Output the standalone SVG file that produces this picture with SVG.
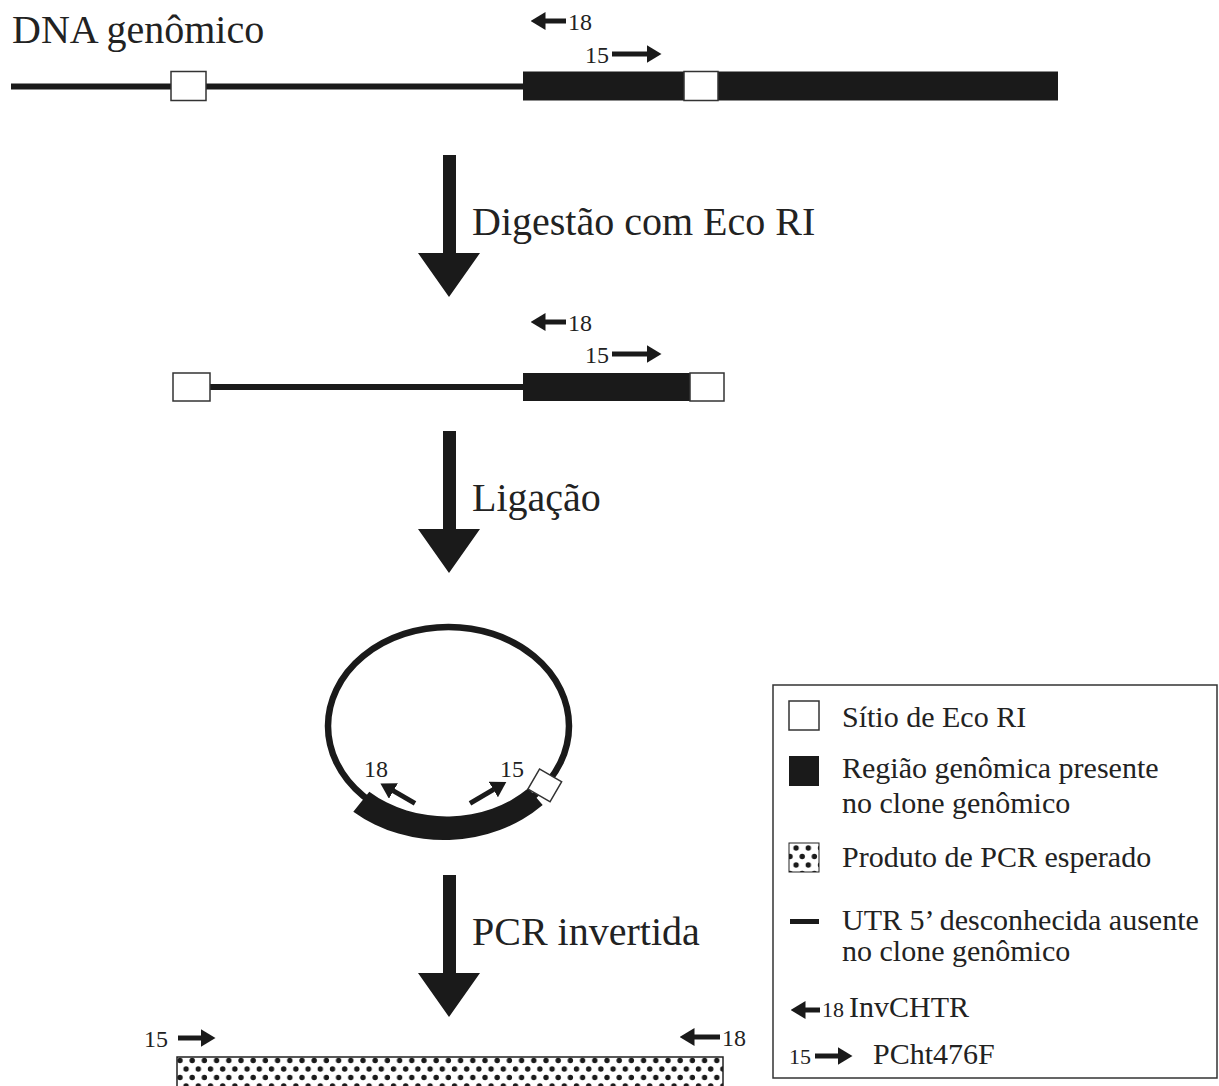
<svg xmlns="http://www.w3.org/2000/svg" width="1219" height="1086" viewBox="0 0 1219 1086">
<style>
text{font-family:"Liberation Serif","Times New Roman",serif;fill:#222}
.big{font-size:40px}
.leg{font-size:30px}
.num{font-size:24px}
.lnum{font-size:22px}
.dna{stroke:#1a1a1a;stroke-width:6;fill:none}
.site{fill:#fff;stroke:#333;stroke-width:1.5}
.gen{fill:#1a1a1a}
.pr{stroke:#1a1a1a;stroke-width:5;fill:none;marker-end:url(#ah)}
.bigarrow{fill:#1a1a1a}
</style>
<defs>
<marker id="ah" viewBox="0 0 15 18" markerWidth="15" markerHeight="18" refX="0.5" refY="9" orient="auto" markerUnits="userSpaceOnUse">
<path d="M0,0 L15,9 L0,18 Z" fill="#1a1a1a"/>
</marker>
<pattern id="dots" patternUnits="userSpaceOnUse" width="12.2" height="17" x="177" y="1057">
<rect width="12.2" height="17" fill="#fff"/>
<circle cx="3" cy="3.5" r="2.7" fill="#1a1a1a"/>
<circle cx="9.1" cy="12" r="2.7" fill="#1a1a1a"/>
</pattern>
</defs>
<rect width="1219" height="1086" fill="#fff"/>

<g id="genomic">
<text class="big" x="12" y="43">DNA genômico</text>
<line class="dna" x1="11" y1="86.5" x2="524" y2="86.5"/>
<rect class="site" x="171" y="71.5" width="35" height="29"/>
<rect class="gen" x="523" y="71.5" width="535" height="29"/>
<rect class="site" x="684" y="71.5" width="34" height="29"/>
<line class="pr" x1="566" y1="21" x2="545" y2="21"/>
<text class="num" x="568" y="30">18</text>
<text class="num" x="585" y="63">15</text>
<line class="pr" x1="612" y1="54" x2="647" y2="54"/>
</g>

<g id="fragment">
<line class="dna" x1="210" y1="387" x2="524" y2="387"/>
<rect class="site" x="173" y="373" width="37" height="28"/>
<rect class="gen" x="523" y="373" width="167" height="28"/>
<rect class="site" x="690" y="373" width="34" height="28"/>
<line class="pr" x1="566" y1="322" x2="545" y2="322"/>
<text class="num" x="568" y="331">18</text>
<text class="num" x="585" y="363">15</text>
<line class="pr" x1="612" y1="354" x2="647" y2="354"/>
</g>

<g id="circle">
<ellipse cx="448.5" cy="726" rx="120.5" ry="99" fill="none" stroke="#1a1a1a" stroke-width="6.5"/>
<path class="gen" d="M353.3,811.7 A141.5,123 0 0 0 542.7,805 L528.3,788.3 A116.5,98 0 0 1 369.3,791.7 Z"/>
<rect class="site" x="-11.6" y="-12.75" width="23.2" height="25.5" transform="translate(544.8,785.4) rotate(-60)"/>
<line class="pr" x1="415" y1="803.3" x2="393" y2="790.7"/>
<line class="pr" x1="470" y1="803.3" x2="493.8" y2="789.3"/>
<text class="num" x="364" y="777">18</text>
<text class="num" x="500" y="777">15</text>
</g>

<g id="product">
<text class="num" x="144" y="1047">15</text>
<line class="pr" x1="178" y1="1038" x2="201" y2="1038"/>
<line class="pr" x1="720" y1="1037" x2="694" y2="1037"/>
<text class="num" x="722" y="1046">18</text>
<rect x="177" y="1057" width="546" height="40" fill="url(#dots)" stroke="#222" stroke-width="1.5"/>
</g>

<g id="connectors">
<polygon class="bigarrow" points="443,155 456,155 456,253 480,253 449,297 418,253 443,253"/>
<text class="big" x="472" y="235">Digestão com Eco RI</text>
<polygon class="bigarrow" points="443,431 456,431 456,529 480,529 449,573 418,529 443,529"/>
<text class="big" x="472" y="511">Ligação</text>
<polygon class="bigarrow" points="443,875 456,875 456,973 480,973 449,1017 418,973 443,973"/>
<text class="big" x="472" y="945">PCR invertida</text>
</g>

<g id="legend">
<rect x="773" y="685" width="444" height="393" fill="#fff" stroke="#333" stroke-width="1.5"/>
<rect class="site" x="789" y="701" width="30" height="29"/>
<text class="leg" x="842" y="727">Sítio de Eco RI</text>
<rect class="gen" x="789" y="756" width="30" height="30"/>
<text class="leg" x="842" y="778">Região genômica presente</text>
<text class="leg" x="842" y="813">no clone genômico</text>
<rect x="789" y="843" width="30" height="29" fill="url(#dots)" stroke="#222" stroke-width="1"/>
<text class="leg" x="842" y="867">Produto de PCR esperado</text>
<rect class="gen" x="790" y="919" width="29" height="5"/>
<text class="leg" x="842" y="930">UTR 5’ desconhecida ausente</text>
<text class="leg" x="842" y="961">no clone genômico</text>
<line class="pr" x1="820" y1="1010" x2="805" y2="1010"/>
<text class="lnum" x="822" y="1017">18</text>
<text class="leg" x="849" y="1017">InvCHTR</text>
<text class="lnum" x="789" y="1064">15</text>
<line class="pr" x1="815" y1="1056" x2="838" y2="1056"/>
<text class="leg" x="873" y="1064">PCht476F</text>
</g>
</svg>
